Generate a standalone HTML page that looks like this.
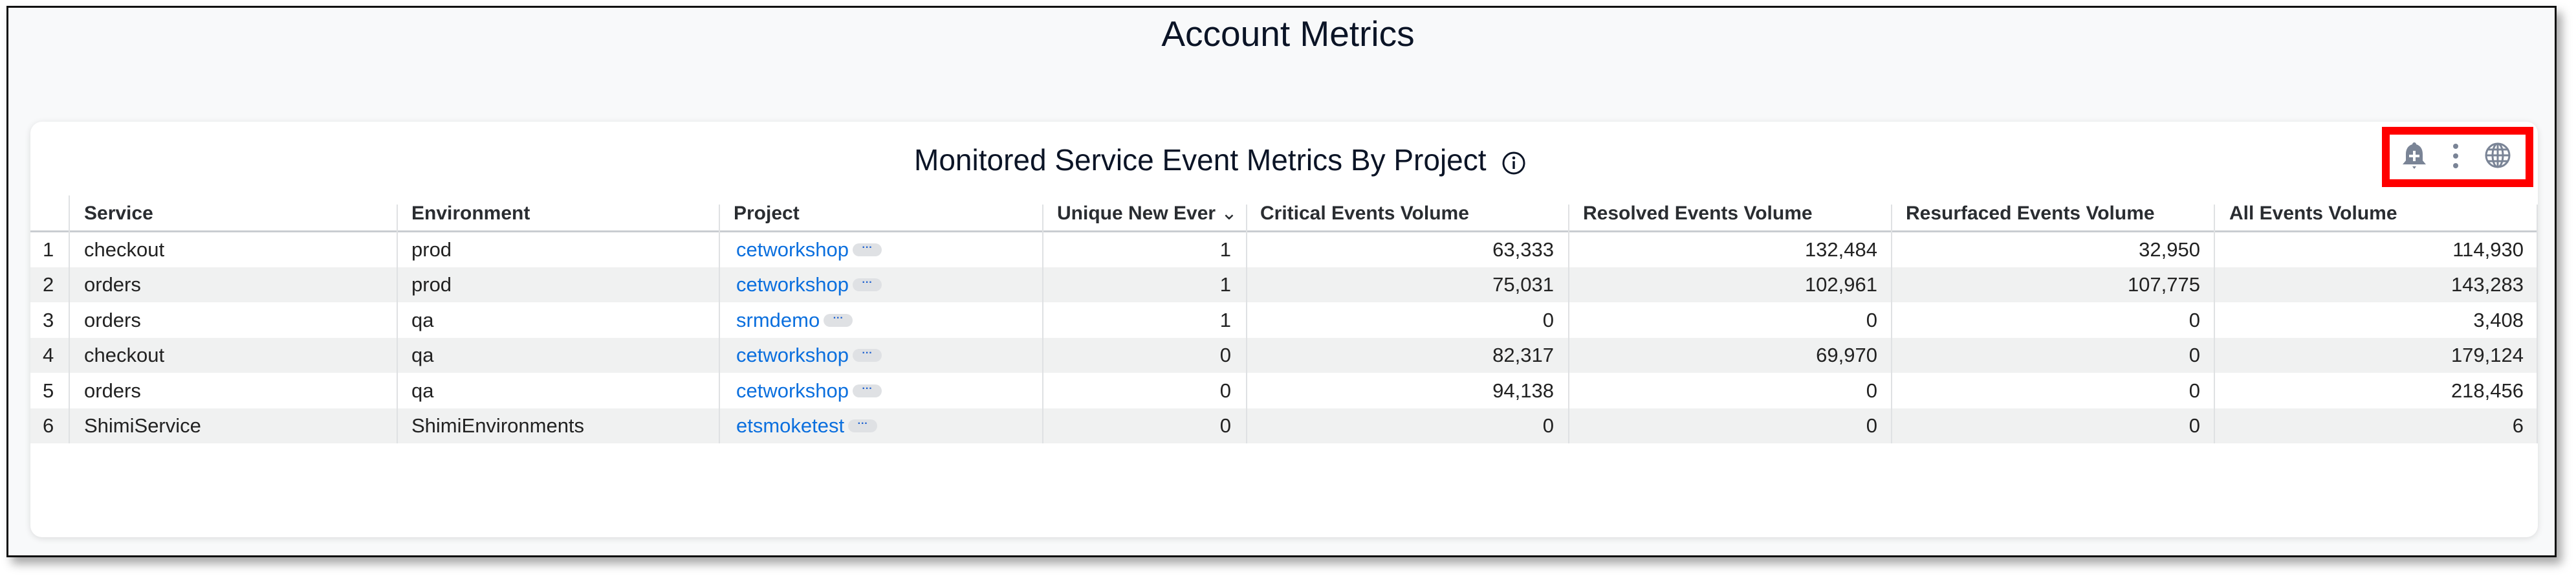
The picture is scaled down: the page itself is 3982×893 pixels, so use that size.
<!DOCTYPE html>
<html><head><meta charset="utf-8"><style>
*{margin:0;padding:0;box-sizing:border-box}
body{width:3982px;height:893px;background:#fff;font-family:"Liberation Sans",sans-serif;position:relative;overflow:hidden}
#frame{position:absolute;left:10px;top:9px;width:3942px;height:852px;border:3px solid #111;background:#f8f9fa;box-shadow:8px 10px 14px rgba(0,0,0,.35)}
#title{position:absolute;left:0;width:3982px;top:20px;text-align:center;font-size:55px;color:#0b1426}
#card{position:absolute;left:47px;top:188px;width:3876px;height:642px;background:#fff;border-radius:18px;box-shadow:0 2px 10px rgba(0,0,0,.12)}
#ct{position:absolute;left:1413px;top:220px;font-size:46px;color:#0b1426;white-space:nowrap}
.t{position:absolute;font-size:31px;color:#222;white-space:nowrap;line-height:54px}
.h{font-weight:bold;color:#2a2d31;font-size:30px}
.row{position:absolute;left:47px;width:3876px;height:54px}
.vl{position:absolute;width:2px;background:#dfe1e3}
.lnk{color:#0b6fde}
.pill{display:inline-block;width:45px;height:20px;border-radius:10px;background:#dfe1e4;vertical-align:middle;margin-left:6px;position:relative;top:-2px;font-size:16px;line-height:14px;text-align:center;color:#1a5fd0;font-weight:bold}
.n{position:absolute;font-size:31px;color:#222;line-height:54px;text-align:right;white-space:nowrap}
</style></head><body>
<div id="frame"></div>
<div id="title">Account Metrics</div>
<div id="card"></div>
<div id="ct">Monitored Service Event Metrics By Project</div>
<svg style="position:absolute;left:2320px;top:232px" width="40" height="40" viewBox="0 0 40 40"><circle cx="20" cy="20" r="16" fill="none" stroke="#0b1426" stroke-width="3"/><circle cx="20" cy="12" r="2.3" fill="#0b1426"/><rect x="18.3" y="17" width="3.4" height="12" fill="#0b1426"/></svg>
<div style="position:absolute;left:3682px;top:196px;width:234px;height:93px;border:12px solid #f00"></div>
<svg style="position:absolute;left:3710px;top:218px" width="44" height="46" viewBox="0 0 44 46"><path d="M22 2c2 0 3 2 3 3 7 2 10 8 10 15v10l5 6H4l5-6V20c0-7 3-13 10-15 0-1 1-3 3-3z" fill="#7a8496"/><path d="M19 39h6l-3 4z" fill="#7a8496"/><rect x="20" y="15" width="4" height="16" fill="#fff"/><rect x="14" y="21" width="16" height="4" fill="#fff"/></svg>
<svg style="position:absolute;left:3786px;top:220px" width="20" height="44"><circle cx="10" cy="6" r="4" fill="#7a8496"/><circle cx="10" cy="21" r="4" fill="#7a8496"/><circle cx="10" cy="36" r="4" fill="#7a8496"/></svg>
<svg style="position:absolute;left:3840px;top:219px" width="42" height="42" viewBox="0 0 42 42" fill="none" stroke="#7a8496" stroke-width="3"><circle cx="21" cy="21" r="18"/><ellipse cx="21" cy="21" rx="8" ry="18"/><line x1="21" y1="3" x2="21" y2="39"/><line x1="3" y1="21" x2="39" y2="21"/><path d="M6 12h30M6 30h30"/></svg>

<div class="row" style="top:413px;background:#f0f1f1"></div>
<div class="row" style="top:522px;background:#f0f1f1"></div>
<div class="row" style="top:631px;background:#f0f1f1"></div>
<div style="position:absolute;left:47px;top:356px;width:3876px;height:3px;background:#c9cdd1"></div>
<div class="vl" style="left:106px;top:302px;height:383px"></div>
<div class="vl" style="left:613px;top:316px;height:369px"></div>
<div class="vl" style="left:1111px;top:316px;height:369px"></div>
<div class="vl" style="left:1611px;top:316px;height:369px"></div>
<div class="vl" style="left:1926px;top:316px;height:369px"></div>
<div class="vl" style="left:2424px;top:316px;height:369px"></div>
<div class="vl" style="left:2923px;top:316px;height:369px"></div>
<div class="vl" style="left:3422px;top:316px;height:369px"></div>
<div class="vl" style="left:3921px;top:316px;height:369px"></div>

<div class="t h" style="left:130px;top:303px">Service</div>
<div class="t h" style="left:636px;top:303px">Environment</div>
<div class="t h" style="left:1134px;top:303px">Project</div>
<div class="t h" style="left:1634px;top:303px">Unique New Ever <span style="font-weight:normal">&#8964;</span></div>
<div class="t h" style="left:1948px;top:303px">Critical Events Volume</div>
<div class="t h" style="left:2447px;top:303px">Resolved Events Volume</div>
<div class="t h" style="left:2946px;top:303px">Resurfaced Events Volume</div>
<div class="t h" style="left:3446px;top:303px">All Events Volume</div>

<!-- rows -->
<div class="t" style="left:66px;top:359px">1</div><div class="t" style="left:130px;top:359px">checkout</div><div class="t" style="left:636px;top:359px">prod</div><div class="t lnk" style="left:1138px;top:359px">cetworkshop<span class="pill">···</span></div>
<div class="n" style="left:1600px;width:303px;top:359px">1</div><div class="n" style="left:1930px;width:472px;top:359px">63,333</div><div class="n" style="left:2430px;width:472px;top:359px">132,484</div><div class="n" style="left:2930px;width:471px;top:359px">32,950</div><div class="n" style="left:3430px;width:471px;top:359px">114,930</div>

<div class="t" style="left:66px;top:413px">2</div><div class="t" style="left:130px;top:413px">orders</div><div class="t" style="left:636px;top:413px">prod</div><div class="t lnk" style="left:1138px;top:413px">cetworkshop<span class="pill">···</span></div>
<div class="n" style="left:1600px;width:303px;top:413px">1</div><div class="n" style="left:1930px;width:472px;top:413px">75,031</div><div class="n" style="left:2430px;width:472px;top:413px">102,961</div><div class="n" style="left:2930px;width:471px;top:413px">107,775</div><div class="n" style="left:3430px;width:471px;top:413px">143,283</div>

<div class="t" style="left:66px;top:468px">3</div><div class="t" style="left:130px;top:468px">orders</div><div class="t" style="left:636px;top:468px">qa</div><div class="t lnk" style="left:1138px;top:468px">srmdemo<span class="pill">···</span></div>
<div class="n" style="left:1600px;width:303px;top:468px">1</div><div class="n" style="left:1930px;width:472px;top:468px">0</div><div class="n" style="left:2430px;width:472px;top:468px">0</div><div class="n" style="left:2930px;width:471px;top:468px">0</div><div class="n" style="left:3430px;width:471px;top:468px">3,408</div>

<div class="t" style="left:66px;top:522px">4</div><div class="t" style="left:130px;top:522px">checkout</div><div class="t" style="left:636px;top:522px">qa</div><div class="t lnk" style="left:1138px;top:522px">cetworkshop<span class="pill">···</span></div>
<div class="n" style="left:1600px;width:303px;top:522px">0</div><div class="n" style="left:1930px;width:472px;top:522px">82,317</div><div class="n" style="left:2430px;width:472px;top:522px">69,970</div><div class="n" style="left:2930px;width:471px;top:522px">0</div><div class="n" style="left:3430px;width:471px;top:522px">179,124</div>

<div class="t" style="left:66px;top:577px">5</div><div class="t" style="left:130px;top:577px">orders</div><div class="t" style="left:636px;top:577px">qa</div><div class="t lnk" style="left:1138px;top:577px">cetworkshop<span class="pill">···</span></div>
<div class="n" style="left:1600px;width:303px;top:577px">0</div><div class="n" style="left:1930px;width:472px;top:577px">94,138</div><div class="n" style="left:2430px;width:472px;top:577px">0</div><div class="n" style="left:2930px;width:471px;top:577px">0</div><div class="n" style="left:3430px;width:471px;top:577px">218,456</div>

<div class="t" style="left:66px;top:631px">6</div><div class="t" style="left:130px;top:631px">ShimiService</div><div class="t" style="left:636px;top:631px">ShimiEnvironments</div><div class="t lnk" style="left:1138px;top:631px">etsmoketest<span class="pill">···</span></div>
<div class="n" style="left:1600px;width:303px;top:631px">0</div><div class="n" style="left:1930px;width:472px;top:631px">0</div><div class="n" style="left:2430px;width:472px;top:631px">0</div><div class="n" style="left:2930px;width:471px;top:631px">0</div><div class="n" style="left:3430px;width:471px;top:631px">6</div>
</body></html>
